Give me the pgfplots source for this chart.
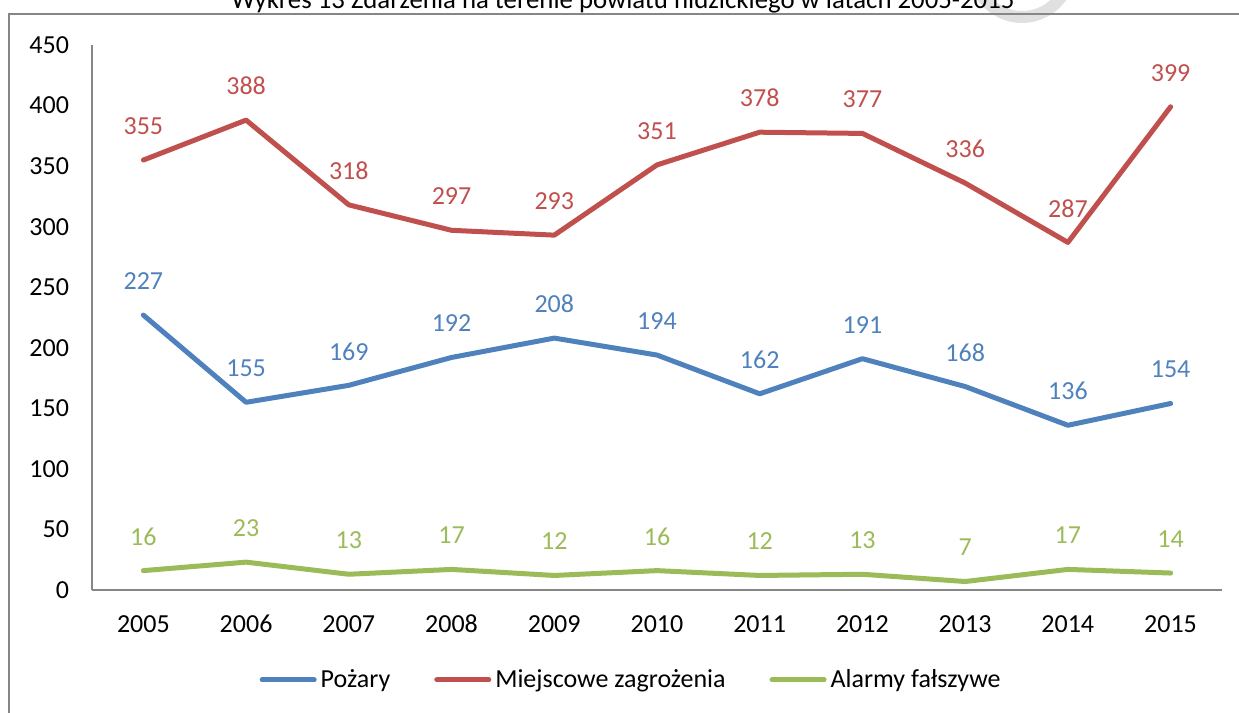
\documentclass[border=0pt]{standalone}
\usepackage{pgfplots}
\pgfplotsset{compat=1.18}
\usepackage{fontspec}
\setmainfont{Carlito}
\definecolor{cBlue}{HTML}{4F81BD}
\definecolor{cRed}{HTML}{C0504D}
\definecolor{cGreen}{HTML}{9BBB59}
\definecolor{cAxis}{HTML}{868686}
\begin{document}
\begin{tikzpicture}
\path[use as bounding box] (0pt,0pt) rectangle (619.5pt,356.5pt);
% watermark arc
\draw[line width=6pt, black!12] (511pt,372pt) ++(200:24pt) arc (200:350:24pt);
% title
\node[anchor=base, font=\fontsize{13.4}{16}\selectfont, inner sep=0pt] at (311.5pt,352pt) {Wykres 13 Zdarzenia na terenie powiatu nidzickiego w latach 2005-2015};
% frame
\draw[cAxis, line width=0.8pt] (4.5pt,-5pt) -- (4.5pt,349.5pt) -- (625pt,349.5pt);
\begin{axis}[
  at={(46pt,61.5pt)}, anchor=origin,
  scale only axis, width=565pt, height=272.5pt,
  xmin=2004.5, xmax=2015.5, ymin=0, ymax=450,
  xtick={2005,...,2015}, ytick={0,50,...,450},
  axis x line*=bottom, axis y line*=left,
  axis line style={cAxis, line width=0.8pt, -},
  tick style={draw=none},
  major tick length=0pt,
  /pgf/number format/assume math mode=true,
  /pgf/number format/set thousands separator={},
  ticklabel style={font=\fontsize{13}{15}\selectfont},
  yticklabel style={xshift=-8pt},
  xticklabel style={yshift=-8.5pt, text height=9pt, text depth=0pt},
  legend columns=3,
  legend style={at={(0.478,-0.165)}, anchor=center, draw=none, fill=none,
    font=\fontsize{13}{15}\selectfont, /tikz/every even column/.append style={column sep=20pt}},
  legend image code/.code={\draw[#1, line width=2.5pt, line cap=round] (0pt,0pt) -- (26pt,0pt);},
  every axis plot/.append style={line width=2.5pt, line cap=round, line join=round, mark=none},
  nodes near coords,
  every node near coord/.append style={anchor=center, yshift=17pt, font=\fontsize{13}{15}\selectfont},
]
\addplot[cBlue, every node near coord/.append style={text=cBlue}] coordinates {
(2005,227) (2006,155) (2007,169) (2008,192) (2009,208) (2010,194) (2011,162) (2012,191) (2013,168) (2014,136) (2015,154)};
\addlegendentry{Pożary}
\addplot[cRed, every node near coord/.append style={text=cRed}] coordinates {
(2005,355) (2006,388) (2007,318) (2008,297) (2009,293) (2010,351) (2011,378) (2012,377) (2013,336) (2014,287) (2015,399)};
\addlegendentry{Miejscowe zagrożenia}
\addplot[cGreen, every node near coord/.append style={text=cGreen}] coordinates {
(2005,16) (2006,23) (2007,13) (2008,17) (2009,12) (2010,16) (2011,12) (2012,13) (2013,7) (2014,17) (2015,14)};
\addlegendentry{Alarmy fałszywe}
\end{axis}
\end{tikzpicture}
\end{document}
